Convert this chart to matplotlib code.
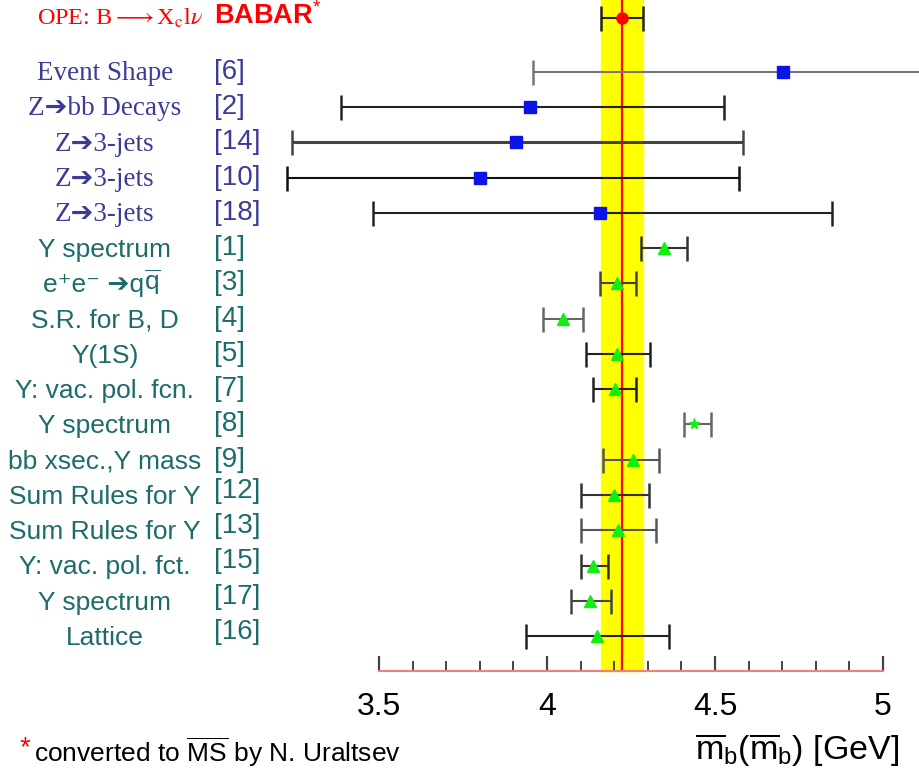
import numpy as np
import matplotlib
matplotlib.use("Agg")
import matplotlib.pyplot as plt
from matplotlib.transforms import blended_transform_factory
from matplotlib.ticker import FixedLocator

plt.rcParams['mathtext.fontset'] = 'custom'
plt.rcParams['mathtext.rm'] = 'Liberation Sans'
plt.rcParams['mathtext.it'] = 'Liberation Sans:italic'

# BABAR reference value (OPE: B -> Xc l nu)
babar_val = 4.223
babar_lo = 4.16
babar_hi = 4.285

# measurements, top to bottom
names = ["Event Shape", "Z➔bb Decays", "Z➔3-jets", "Z➔3-jets", "Z➔3-jets",
         "Y spectrum", "e⁺e⁻ ➔q", "S.R. for B, D", "Y(1S)",
         "Y: vac. pol. fcn.", "Y spectrum", "bb xsec.,Y mass", "Sum Rules for Y",
         "Sum Rules for Y", "Y: vac. pol. fct.", "Y spectrum", "Lattice"]
refs = ["[6]", "[2]", "[14]", "[10]", "[18]", "[1]", "[3]", "[4]", "[5]", "[7]",
        "[8]", "[9]", "[12]", "[13]", "[15]", "[17]", "[16]"]
vals = [4.702, 3.949, 3.908, 3.800, 4.158, 4.348, 4.208, 4.048, 4.208, 4.202,
        4.438, 4.256, 4.199, 4.211, 4.137, 4.128, 4.149]
lows = [3.958, 3.387, 3.241, 3.226, 3.482, 4.279, 4.158, 3.988, 4.116, 4.137,
        4.408, 4.167, 4.101, 4.101, 4.101, 4.071, 3.938]
highs = [5.45, 4.527, 4.583, 4.571, 4.848, 4.417, 4.265, 4.107, 4.307, 4.265,
         4.488, 4.333, 4.304, 4.324, 4.182, 4.190, 4.363]
group = ["serif"] * 5 + ["sans"] * 12

major_ticks = [3.5, 4.0, 4.5, 5.0]
major_labels = ["3.5", "4", "4.5", "5"]

blue_txt = "#3c3c96"
teal_txt = "#1d6b6b"
bar_cols = ["#777777", "#222222", "#444444", "#111111", "#222222",
            "#333333", "#444444", "#666666", "#222222", "#222222",
            "#666666", "#555555", "#333333", "#555555", "#333333",
            "#444444", "#222222"]

fig = plt.figure(figsize=(9.19, 7.70), dpi=100)
ax = fig.add_axes([0, 0, 1, 1])
ax.set_xlim(2.372, 5.107)
ax.set_ylim(19.8, -2.04)

rows = np.arange(len(vals))
babar_y = -1.53
axis_y = 17

# yellow band and central line
ax.fill_betweenx([-2.04, axis_y], babar_lo, babar_hi, color="#ffff00", zorder=1)
ax.plot([babar_val, babar_val], [-2.04, axis_y], color="red", lw=1.6, zorder=2)

# BABAR point
ax.errorbar([babar_val], [babar_y], xerr=[[babar_val - babar_lo], [babar_hi - babar_val]],
            fmt="o", color="red", ms=8, ecolor="#222222", elinewidth=1.5,
            capsize=9, capthick=1.8, zorder=4)

for i in rows:
    if group[i] == "serif":
        mk, mc, ms = "s", "#0a14e6", 8
    else:
        mk, mc, ms = "^", "#11ee11", 9
    if refs[i] == "[8]":
        mk, ms = "*", 8
    lw = 2.2 if refs[i] == "[14]" else 1.5
    ax.errorbar([vals[i]], [i], xerr=[[vals[i] - lows[i]], [highs[i] - vals[i]]],
                fmt="none", ecolor=bar_cols[i], elinewidth=lw, capsize=9,
                capthick=1.8, zorder=3)
    ax.plot([vals[i]], [i], marker=mk, color=mc, ms=ms, ls="none", zorder=4)

# labels
tr = blended_transform_factory(ax.transAxes, ax.transData)
for i in rows:
    if group[i] == "serif":
        ax.text(0.114, i + 0.05, names[i], transform=tr, ha="center", va="center",
                fontsize=19.5, color=blue_txt, family=["Liberation Serif", "DejaVu Sans"])
        ax.text(0.233, i, refs[i], transform=tr, ha="left", va="center",
                fontsize=20, color=blue_txt, family=["Liberation Sans"])
    else:
        if refs[i] == "[3]":
            # e+e- -> q qbar : last q gets an overline
            t1 = ax.text(0.047, i + 0.05, names[i], transform=tr, ha="left", va="center",
                         fontsize=19, color=teal_txt, family=["Liberation Sans", "DejaVu Sans"])
            ax.annotate(r"$\overline{\mathrm{q}}$", xy=(1, 0), xycoords=t1,
                        ha="left", va="bottom", fontsize=19, color=teal_txt)
        else:
            ax.text(0.114, i + 0.05, names[i], transform=tr, ha="center", va="center",
                    fontsize=19, color=teal_txt, family=["Liberation Sans", "DejaVu Sans"])
        ax.text(0.233, i - (0.12 if i >= 12 else 0), refs[i], transform=tr, ha="left",
                va="center", fontsize=20, color=teal_txt, family=["Liberation Sans"])

ax.text(0.04, babar_y, r"OPE: B$\longrightarrow$X$_\mathrm{c}$l$\nu$", transform=tr,
        ha="left", va="center", fontsize=17.5, color="red",
        family=["Liberation Serif", "DejaVu Serif"], math_fontfamily="stix")
ax.text(0.233, babar_y - 0.05, r"BABAR$^{*}$", transform=tr, ha="left", va="center",
        fontsize=19.5, color="red", fontweight="bold", family=["Liberation Sans"])

# axis
for s in ["top", "left", "right"]:
    ax.spines[s].set_visible(False)
ax.spines["bottom"].set_position(("data", axis_y))
ax.spines["bottom"].set_bounds(major_ticks[0], major_ticks[-1])
ax.spines["bottom"].set_color("#f08080")
ax.spines["bottom"].set_linewidth(1.5)
ax.set_yticks([])
ax.set_xticks(major_ticks)
ax.set_xticklabels(major_labels)
minor = [t for t in np.round(np.arange(3.5, 5.01, 0.1), 2) if t not in major_ticks]
ax.xaxis.set_minor_locator(FixedLocator(minor))
ax.tick_params(axis="x", which="major", direction="in", length=11, width=1.6,
               color="#444444", labelsize=23, pad=15)
ax.tick_params(axis="x", which="minor", direction="in", length=7, width=1.4,
               color="#444444")
for lab in ax.get_xticklabels():
    lab.set_family("Liberation Sans")

# bottom notes
fig.text(0.021, 0.019, "*", color="red", fontsize=20, family="Liberation Sans",
         ha="left", va="baseline")
fig.text(0.037, 0.010, r"converted to $\overline{\mathrm{MS}}$ by N. Uraltsev",
         fontsize=19, family="Liberation Sans", ha="left", va="baseline")
fig.text(0.978, 0.013, r"$\overline{\mathrm{m}}_\mathrm{b}(\overline{\mathrm{m}}_\mathrm{b})$ [GeV]",
         fontsize=24.5, family="Liberation Sans", ha="right", va="baseline")

fig.savefig("out.png", dpi=100)
